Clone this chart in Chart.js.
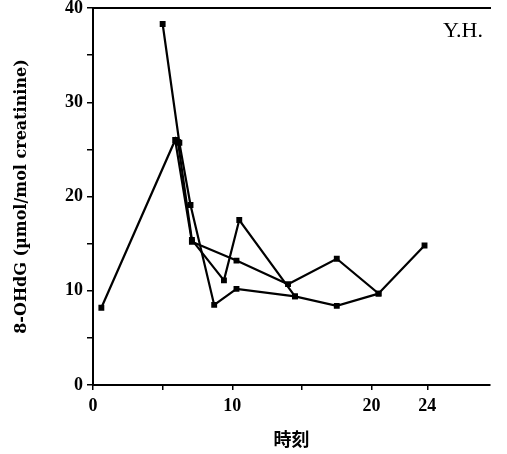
<!DOCTYPE html>
<html>
<head>
<meta charset="utf-8">
<script src="https://cdn.jsdelivr.net/npm/chart.js@4.4.1/dist/chart.umd.min.js"></script>
<style>
  html, body { margin: 0; padding: 0; background: #fff; }
  #wrap { width: 507px; height: 454px; }
</style>
</head>
<body>
<div id="wrap"><canvas id="chart"></canvas></div>
<script>
// time of day (h) and 8-OHdG values
const day1Hours = [5.0, 6.2, 7.0, 8.7, 10.3, 14.5, 17.5, 20.5];
const day1Values = [38.3, 25.7, 19.1, 8.5, 10.2, 9.4, 8.4, 9.7];
const day2Hours = [0.6, 5.9, 7.1, 10.3, 14.0, 17.5, 20.5, 23.8];
const day2Values = [8.2, 26.0, 15.2, 13.2, 10.7, 13.4, 9.7, 14.8];
const day3Hours = [6.1, 7.1, 9.4, 10.5, 14.5];
const day3Values = [25.8, 15.4, 11.1, 17.5, 9.4];

const xTickValues = [0, 5, 10, 15, 20, 24];
const xTickLabels = [0, 10, 20, 24];
const yTickLabels = [0, 10, 20, 30, 40];

const subjectLabel = 'Y.H.';
const serif = '"Liberation Serif", "DejaVu Serif", serif';

function toPoints(xs, ys) {
    return xs.map((x, i) => ({ x: x, y: ys[i] }));
}

function seriesStyle(xs, ys) {
    return {
        data: toPoints(xs, ys),
        showLine: true,
        borderColor: '#000',
        backgroundColor: '#000',
        borderWidth: 2.2,
        pointStyle: 'rect',
        pointRadius: 2.6,
        pointHoverRadius: 2.6,
        tension: 0
    };
}

// subject initials in the top right corner
const cornerLabel = {
    id: 'cornerLabel',
    afterDraw(chart) {
        const ctx = chart.ctx;
        ctx.save();
        ctx.fillStyle = '#000';
        ctx.font = '22px ' + serif;
        ctx.textAlign = 'center';
        ctx.textBaseline = 'middle';
        ctx.fillText(subjectLabel, 463, 31);
        ctx.restore();
    }
};

const ctx = document.getElementById('chart').getContext('2d');
new Chart(ctx, {
    type: 'scatter',
    data: {
        datasets: [
            seriesStyle(day1Hours, day1Values),
            seriesStyle(day2Hours, day2Values),
            seriesStyle(day3Hours, day3Values)
        ]
    },
    options: {
        responsive: true,
        maintainAspectRatio: false,
        animation: false,
        layout: { padding: { left: 8, right: 17, top: 8, bottom: 0 } },
        plugins: {
            legend: { display: false },
            tooltip: { enabled: false }
        },
        scales: {
            x: {
                type: 'linear',
                min: 0,
                max: 28.5,
                afterBuildTicks(scale) {
                    scale.ticks = xTickValues.map(v => ({ value: v }));
                },
                afterFit(scale) { scale.height = 69; },
                grid: { display: true, drawOnChartArea: false, color: '#000', tickLength: 5, lineWidth: 1.5 },
                border: { display: true, color: '#000', width: 2 },
                ticks: {
                    color: '#000',
                    font: { family: serif, size: 18, weight: 'bold' },
                    padding: 6,
                    maxRotation: 0,
                    autoSkip: false,
                    callback: v => xTickLabels.includes(v) ? String(v) : ''
                },
                title: {
                    display: true,
                    text: '時刻',
                    color: '#000',
                    font: { family: '"Noto Sans CJK JP", sans-serif', size: 18, weight: 'bold' },
                    padding: { top: 8 }
                }
            },
            x2: {
                type: 'linear',
                position: 'top',
                min: 0,
                max: 28.5,
                afterFit(scale) { scale.height = 0; },
                grid: { display: false },
                border: { display: true, color: '#000', width: 2 },
                ticks: { display: false }
            },
            y: {
                min: 0,
                max: 40,
                afterFit(scale) {
                    scale.width = 85;
                    scale.paddingTop = 0;
                },
                grid: { display: true, drawOnChartArea: false, color: '#000', tickLength: 6, lineWidth: 1.5 },
                border: { display: true, color: '#000', width: 2 },
                ticks: {
                    stepSize: 5,
                    color: '#000',
                    font: { family: serif, size: 18, weight: 'bold' },
                    padding: 4,
                    callback: v => yTickLabels.includes(v) ? String(v) : ''
                },
                title: {
                    display: true,
                    text: '8-OHdG (µmol/mol creatinine)',
                    color: '#000',
                    font: { family: '"DejaVu Serif", serif', size: 16, weight: 'bold' },
                    padding: { bottom: 4 }
                }
            }
        }
    },
    plugins: [cornerLabel]
});
</script>
</body>
</html>
